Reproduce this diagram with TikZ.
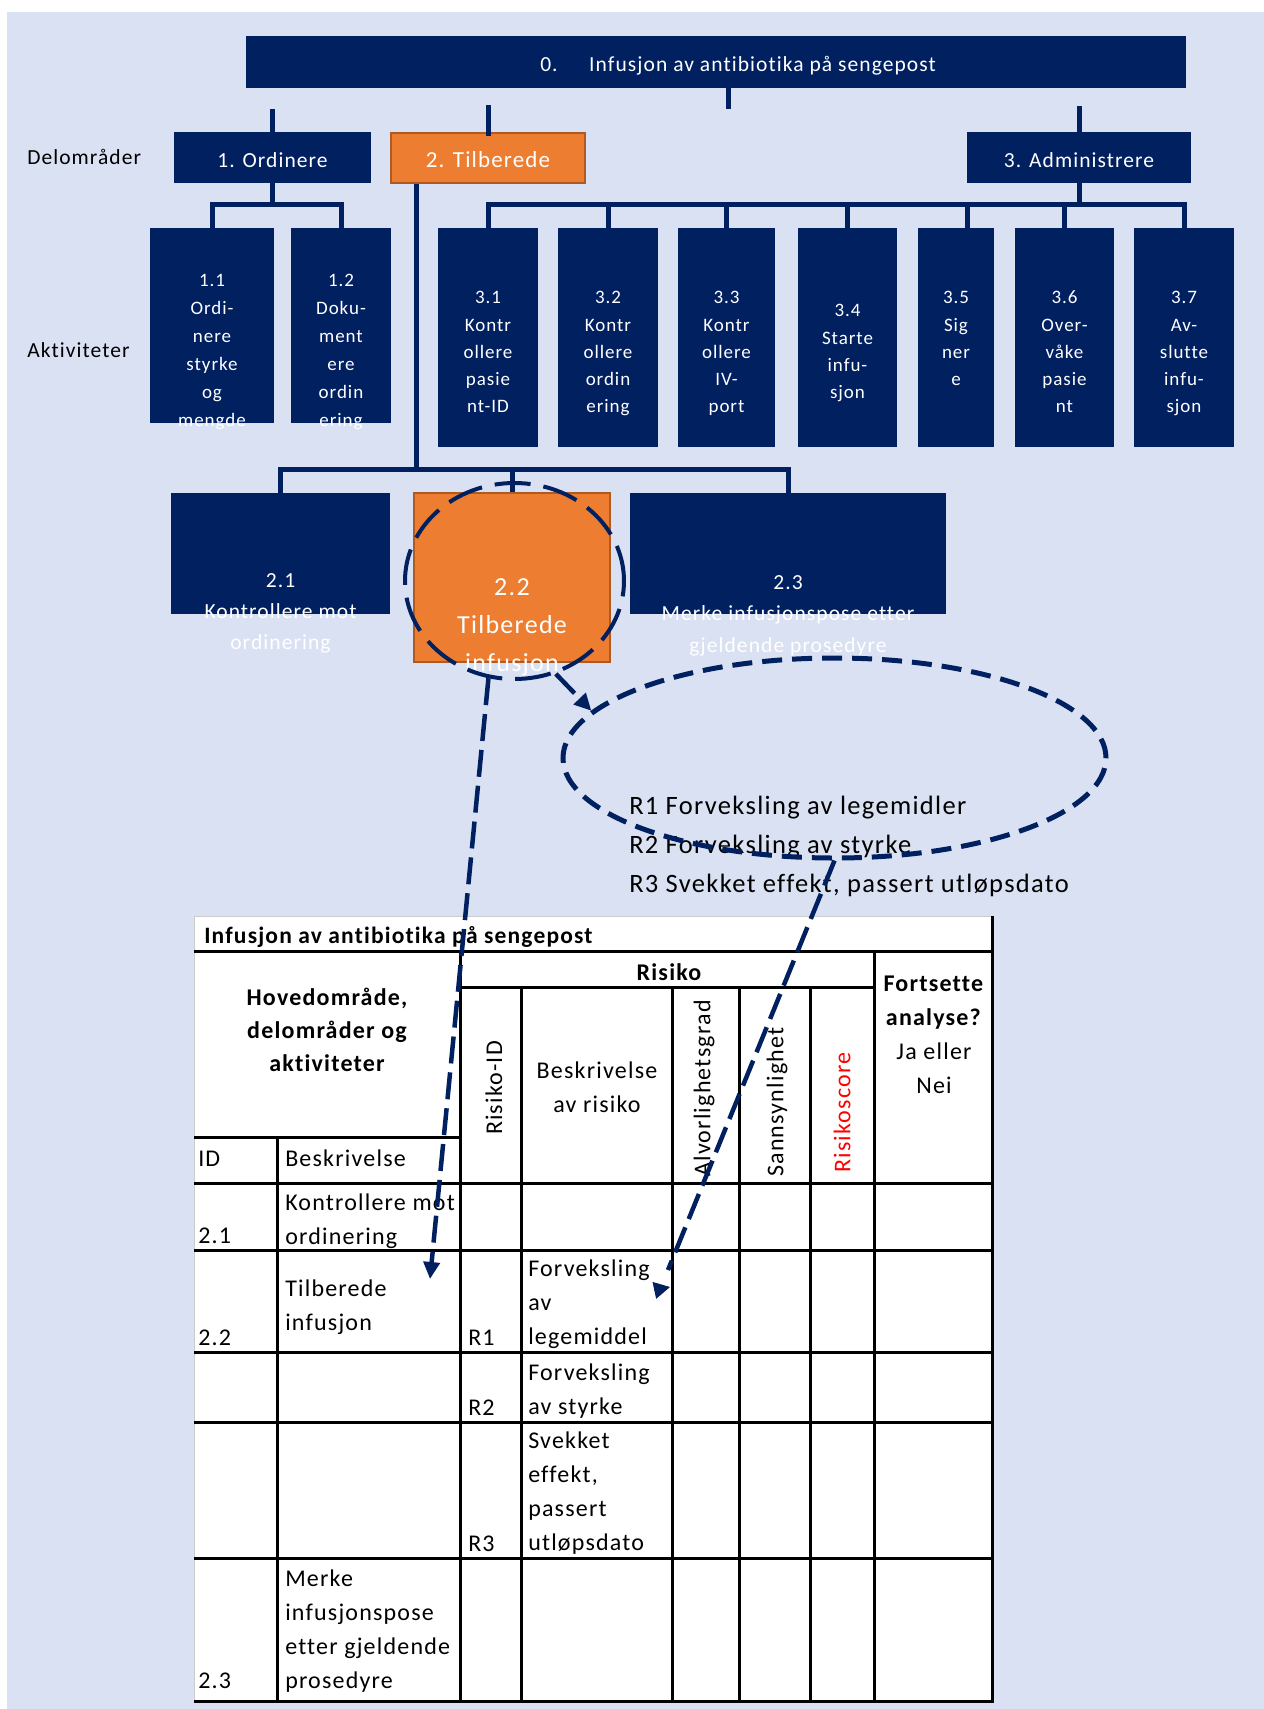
\documentclass[tikz,border=0pt]{standalone}
\usepackage{fontspec}
\setmainfont{Carlito}[Ligatures=NoCommon,LetterSpace=5]
\usetikzlibrary{arrows.meta,shapes.geometric}
\definecolor{navy}{HTML}{002060}
\definecolor{bgblue}{HTML}{DAE1F3}
\definecolor{orangefill}{HTML}{ED7D31}
\definecolor{orangeline}{HTML}{AE5A21}

\begin{document}
\begin{tikzpicture}[x=1pt,y=-1pt,line width=.5pt,
  navybox/.style={fill=navy,inner sep=0pt,text=white,font=\fontsize{21.5}{26}\selectfont},
  orangebox/.style={fill=orangefill,draw=orangeline,line width=2pt,inner sep=0pt,text=white,font=\fontsize{23}{28}\selectfont},
  areatext/.style={text height=19pt,text depth=0pt},
  conn/.style={draw=navy,line width=5pt},
  acttext/.style={text=white,align=center,inner sep=0pt,anchor=north,font=\fontsize{19}{27.3}\selectfont},
  subtext/.style={text=white,align=center,inner sep=0pt,anchor=north,font=\fontsize{21.5}{31}\selectfont},
  sidelabel/.style={anchor=base west,inner sep=0pt,font=\fontsize{21.5}{26}\selectfont},
  ring/.style={ellipse,draw=navy,line width=4pt,dash pattern=on 36pt off 13pt,inner sep=0pt},
  riskring/.style={ellipse,draw=navy,line width=5pt,dash pattern=on 20pt off 10pt,inner sep=0pt},
  dashline/.style={draw=navy,line width=4.5pt,dash pattern=on 27pt off 9pt},
  dasharrow/.style={dashline,-{Triangle[length=17pt,width=16pt]}},
  tipline/.style={draw=navy,line width=1pt,-{Triangle[length=16pt,width=17pt]}},
  tline/.style={line width=3pt},
  celltext/.style={anchor=base west,inner sep=0pt,font=\fontsize{24}{34}\selectfont},
  cellblock/.style={anchor=north west,inner sep=0pt,align=left,font=\fontsize{24}{34}\selectfont},
  headtext/.style={inner sep=0pt,align=center,font=\bfseries\fontsize{24}{33}\selectfont},
  rottext/.style={rotate=90,anchor=west,inner sep=0pt,font=\fontsize{24}{34}\selectfont}]
\path[use as bounding box] (0,0) rectangle (1264,1709);
\fill[bgblue] (7,12) rectangle (1264,1709);
% main process
\node[navybox,minimum width=940,minimum height=52] (n0) at (716,62) {};
\node[anchor=base west,inner sep=0pt,text=white,font=\fontsize{21.5}{26}\selectfont] (n0txt) at (540,71) {\makebox[49pt][l]{0.}Infusjon av antibiotika på sengepost};
\draw[conn] ([xshift=12]n0.south) -- ++(0,21);
% sub areas
\node[sidelabel] (lbl1) at (27,164.5) {Delområder};
\node[navybox,areatext,minimum width=197,minimum height=51] (d1) at (272.5,157.5) {1. Ordinere};
\node[orangebox,areatext,minimum width=194,minimum height=50] (d2) at (488,158) {2. Tilberede};
\node[navybox,areatext,minimum width=224,minimum height=51] (d3) at (1079,157.5) {3. Administrere};
\draw[conn] (d1.north) -- ++(0,-23);
\draw[conn] ([yshift=-4]d2.north) -- ++(0,-31);
\draw[conn] (d3.north) -- ++(0,-26);
% activities
\node[sidelabel] (lbl2) at (27,357.5) {Aktiviteter};
\node[navybox,minimum width=124,minimum height=195] (a11) at (212,325.5) {};
\node[navybox,minimum width=100,minimum height=195] (a12) at (341,325.5) {};
\node[navybox,minimum width=100,minimum height=219] (a31) at (488,337.5) {};
\node[navybox,minimum width=100,minimum height=219] (a32) at (608,337.5) {};
\node[navybox,minimum width=97,minimum height=219] (a33) at (726.5,337.5) {};
\node[navybox,minimum width=99,minimum height=219] (a34) at (847.5,337.5) {};
\node[navybox,minimum width=76,minimum height=219] (a35) at (956,337.5) {};
\node[navybox,minimum width=99,minimum height=219] (a36) at (1064.5,337.5) {};
\node[navybox,minimum width=100,minimum height=219] (a37) at (1184,337.5) {};
\node[acttext,font=\fontsize{19}{28}\selectfont] (t11) at (212,266.9) {\strut 1.1\\\strut Ordi-\\\strut nere\\\strut styrke\\\strut og\\\strut mengde};
\node[acttext,font=\fontsize{19}{28}\selectfont] (t12) at (341,266.9) {\strut 1.2\\\strut Doku-\\\strut ment\\\strut ere\\\strut ordin\\\strut ering};
\node[acttext] (t31) at (488,284.4) {\strut 3.1\\\strut Kontr\\\strut ollere\\\strut pasie\\\strut nt-ID};
\node[acttext] (t32) at (608,284.4) {\strut 3.2\\\strut Kontr\\\strut ollere\\\strut ordin\\\strut ering};
\node[acttext] (t33) at (726.5,284.4) {\strut 3.3\\\strut Kontr\\\strut ollere\\\strut IV-\\\strut port};
\node[acttext] (t34) at (847.5,297.4) {\strut 3.4\\\strut Starte\\\strut infu-\\\strut sjon};
\node[acttext] (t35) at (956,284.4) {\strut 3.5\\\strut Sig\\\strut ner\\\strut e};
\node[acttext] (t36) at (1064.5,284.4) {\strut 3.6\\\strut Over-\\\strut våke\\\strut pasie\\\strut nt};
\node[acttext] (t37) at (1184,284.4) {\strut 3.7\\\strut Av-\\\strut slutte\\\strut infu-\\\strut sjon};
\draw[conn] (d1.south) -- ++(0,21) -| (a11.north);
\draw[conn] (d1.south) -- ++(0,21) -| (a12.north);
\draw[conn] (d3.south) -- ++(0,21) -| (a31.north);
\draw[conn] (d3.south) -- ++(0,21) -| (a32.north);
\draw[conn] (d3.south) -- ++(0,21) -| (a33.north);
\draw[conn] (d3.south) -- ++(0,21) -| (a34.north);
\draw[conn] (d3.south) -- ++(0,21) -| ([xshift=11]a35.north);
\draw[conn] (d3.south) -- ++(0,21) -| (a36.north);
\draw[conn] (d3.south) -- ++(0,21) -| (a37.north);
% tilberede steps
\node[navybox,minimum width=219,minimum height=121] (a21) at (280.5,553.5) {};
\node[orangebox,minimum width=196,minimum height=169] (a22) at (512,577.5) {};
\node[navybox,minimum width=316,minimum height=121] (a23) at (788,553.5) {};
\draw[conn] ([xshift=-72]d2.south) -- ++(0,285) coordinate (tj);
\draw[conn] (tj) -| (a21.north);
\draw[conn] (tj) -| (a22.north);
\draw[conn] (tj) -| (a23.north);
\node[subtext] (t21) at (280.5,565.3) {\strut 2.1\\\strut Kontrollere mot\\\strut ordinering};
\node[subtext,font=\fontsize{26}{38}\selectfont] (t22) at (512,568.7) {\strut 2.2\\\strut Tilberede\\\strut infusjon};
\node[subtext,font=\fontsize{21.5}{31.5}\selectfont] (t23) at (788,567) {\strut 2.3\\\strut Merke infusjonspose etter\\\strut gjeldende prosedyre};
\node[ring,minimum width=219,minimum height=196] (c22) at (514.5,581) {};
% risks
\node[anchor=north west,inner sep=0pt,align=left,font=\fontsize{26.5}{39}\selectfont] (rtxt) at (629,787) {\strut R1 Forveksling av legemidler\\\strut R2 Forveksling av styrke\\\strut R3 Svekket effekt, passert utløpsdato};
\node[riskring,minimum width=543,minimum height=200] (rsk) at (834.5,758) {};
% table
\fill[white] (194,916) rectangle (993,1702);
\draw[gray!40,line width=1pt] (194,1702) -- (194,916) -- (993,916);
\draw[tline] (992,916) -- (992,1701.5) -- (194,1701.5);
\draw[tline] (194,951.5) -- (993,951.5);
\draw[tline] (460,987) -- (874,987);
\draw[tline] (194,1137) -- (460,1137);
\draw[tline] (194,1183) -- (993,1183);
\draw[tline] (194,1250) -- (993,1250);
\draw[tline] (194,1352) -- (993,1352);
\draw[tline] (194,1422) -- (993,1422);
\draw[tline] (194,1558) -- (993,1558);
\draw[tline] (460,951.5) -- (460,1702);
\draw[tline] (874,951.5) -- (874,1702);
\draw[tline] (277,1137) -- (277,1702);
\draw[tline] (521,987) -- (521,1702);
\draw[tline] (672,987) -- (672,1702);
\draw[tline] (739,987) -- (739,1702);
\draw[tline] (810,987) -- (810,1702);
\node[anchor=base west,inner sep=0pt,font=\bfseries\fontsize{23.5}{34}\selectfont] (ttitle) at (204,943) {Infusjon av antibiotika på sengepost};
\node[headtext,anchor=north] (thhoved) at (327,981.9) {\strut Hovedområde,\\\strut delområder og\\\strut aktiviteter};
\node[celltext] (thid) at (198,1166) {ID};
\node[celltext] (thbesk) at (285,1166) {Beskrivelse};
\node[headtext,anchor=base] (thrisk) at (669,980) {Risiko};
\node[rottext,anchor=center] (thrid) at (494,1088) {Risiko-ID};
\node[cellblock,align=center,anchor=north] (thrbesk) at (597,1054.2) {\strut Beskrivelse\\\strut av risiko};
\node[rottext] (thalv) at (704,1177) {Alvorlighetsgrad};
\node[rottext] (thsann) at (777,1177) {Sannsynlighet};
\node[rottext,text=red] (thscore) at (842,1173) {Risikoscore};
\node[cellblock,align=center,anchor=north] (thfort) at (934,967.2) {\strut\textbf{Fortsette}\\\strut\textbf{analyse?}\\\strut Ja eller\\\strut Nei};
\node[celltext] (r21id) at (198,1243) {2.1};
\node[cellblock] (r21txt) at (285,1186.2) {\strut Kontrollere mot\\\strut ordinering};
\node[celltext] (r22id) at (198,1345) {2.2};
\node[cellblock] (r22txt) at (285,1272.2) {\strut Tilberede\\\strut infusjon};
\node[celltext] (r1id) at (468,1345) {R1};
\node[cellblock] (r1txt) at (528,1252.2) {\strut Forveksling\\\strut av\\\strut legemiddel};
\node[celltext] (r2id) at (468,1415) {R2};
\node[cellblock] (r2txt) at (528,1356.2) {\strut Forveksling\\\strut av styrke};
\node[celltext] (r3id) at (468,1551) {R3};
\node[cellblock] (r3txt) at (528,1424.2) {\strut Svekket\\\strut effekt,\\\strut passert\\\strut utløpsdato};
\node[celltext] (r23id) at (198,1688) {2.3};
\node[cellblock] (r23txt) at (285,1562.2) {\strut Merke\\\strut infusjonspose\\\strut etter gjeldende\\\strut prosedyre};
% links
\coordinate (p22) at (430,1279);
\coordinate (r1end) at (668,1270);
\coordinate (r1back) at (656,1290);
\coordinate (r1tip) at (670,1287);
\draw[dasharrow] (c22.294) -- (rsk.169);
\draw[dasharrow] (c22.255) -- (p22);
\draw[dashline] (rsk.south) -- (r1end);
\draw[tipline] (r1back) -- (r1tip);
\end{tikzpicture}
\end{document}
